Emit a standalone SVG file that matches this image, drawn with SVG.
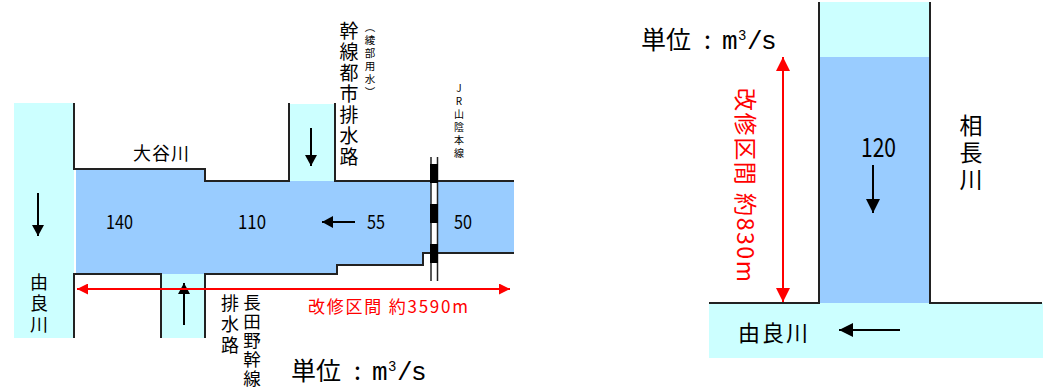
<svg xmlns="http://www.w3.org/2000/svg" width="1045" height="390" viewBox="0 0 1045 390">
<style>
text{font-family:"Noto Sans CJK JP","Noto Sans",sans-serif;fill:#000}
.v{writing-mode:vertical-rl;text-orientation:upright}
.u{font-size:25px}
.n{font-size:26px;font-family:"Liberation Mono",monospace}
.s{font-size:14px;font-family:"Liberation Mono",monospace}
.wall{fill:none;stroke:#222;stroke-width:2}
.rail{fill:none;stroke:#222;stroke-width:1.5}
.flow{fill:none;stroke:#000;stroke-width:2}
.red{fill:none;stroke:#f00;stroke-width:2}
.light{fill:#ccffff}.blue{fill:#99ccff}
text.red-t{fill:#f00}
</style>
<defs>
<marker id="ab" markerUnits="userSpaceOnUse" markerWidth="11" markerHeight="12" refX="11" refY="6" orient="auto"><path d="M0 0L11 6L0 12z" fill="#000"/></marker>
<marker id="abl" markerUnits="userSpaceOnUse" markerWidth="14" markerHeight="14" refX="14" refY="7" orient="auto"><path d="M0 0L14 7L0 14z" fill="#000"/></marker>
<marker id="ar" markerUnits="userSpaceOnUse" markerWidth="11" markerHeight="11" refX="11" refY="5.5" orient="auto-start-reverse"><path d="M0 0L11 5.5L0 11z" fill="#f00"/></marker>
<marker id="arl" markerUnits="userSpaceOnUse" markerWidth="14" markerHeight="14" refX="14" refY="7" orient="auto-start-reverse"><path d="M0 0L14 7L0 14z" fill="#f00"/></marker>
</defs>

<g id="river-yura-left">
<rect class="light" x="14" y="103" width="60" height="235"/>
<text class="v" x="39" y="273" font-size="18" letter-spacing="3">由良川</text>
</g>
<g id="main-channel">
<path class="blue" d="M76 168H205V181H514V253H423V265H337V274H76z"/>
<text x="106" y="229" font-size="19" textLength="27" lengthAdjust="spacingAndGlyphs">140</text>
<text x="238" y="229" font-size="19" textLength="28" lengthAdjust="spacingAndGlyphs">110</text>
<text x="367" y="229" font-size="19" textLength="18" lengthAdjust="spacingAndGlyphs">55</text>
<text x="454" y="229" font-size="19" textLength="18" lengthAdjust="spacingAndGlyphs">50</text>
</g>
<g id="tributary-top">
<rect class="light" x="289" y="104" width="46" height="77"/>
<text class="v" x="349" y="21" font-size="19" letter-spacing="2">幹線都市排水路</text>
<text class="v" x="370" y="22" font-size="10.500" letter-spacing="2.500">（綾部用水）</text>
</g>
<g id="tributary-bottom">
<rect class="light" x="161" y="274" width="44" height="64"/>
<text class="v" x="230" y="294" font-size="18" letter-spacing="3">排水路</text>
<text class="v" x="252" y="294" font-size="17.500" letter-spacing="1.500">長田野幹線</text>
</g>
<g id="label-otani"><text x="133" y="160" font-size="18" letter-spacing="1">大谷川</text></g>
<g id="label-jr"><text class="v" x="459" y="83" font-size="10" letter-spacing="3">JR山陰本線</text></g>

<g id="river-aio">
<rect class="light" x="819" y="2" width="111" height="56"/>
<rect class="blue" x="819" y="57" width="111" height="246"/>
<text x="861" y="157" font-size="27" textLength="35" lengthAdjust="spacingAndGlyphs">120</text>
<text class="v" x="971" y="114" font-size="23" letter-spacing="4">相長川</text>
</g>
<g id="river-yura-right">
<rect class="light" x="709" y="303" width="334" height="55"/>
<text x="738" y="341" font-size="22" letter-spacing="2">由良川</text>
</g>

<g id="connectors">
<path class="wall" d="M74 103V169H205V181H289V103M335 103V181H514"/>
<path class="wall" d="M74 338V274H161V338M205 338V274H337V265H423V253H514"/>
<path class="wall" d="M819 2V303H709M930 2V303H1042"/>
<rect x="431" y="157" width="7" height="124" fill="#fff"/>
<path class="rail" d="M431 157V281M437.500 157V281"/>
<rect x="430" y="164" width="8" height="19" fill="#000"/>
<rect x="430" y="204" width="8" height="19" fill="#000"/>
<rect x="430" y="244" width="8" height="19" fill="#000"/>
<path class="flow" d="M38 193V236" marker-end="url(#ab)"/>
<path class="flow" d="M311 128V166" marker-end="url(#ab)"/>
<path class="flow" d="M184 325V283" marker-end="url(#ab)"/>
<path class="flow" d="M355 222H322" marker-end="url(#ab)"/>
<path class="flow" d="M873 165V213" marker-end="url(#abl)"/>
<path class="flow" d="M900 330H839" marker-end="url(#abl)"/>
<path class="red" d="M77 289H510" marker-start="url(#ar)" marker-end="url(#ar)"/>
<path class="red" d="M783 57V302" marker-start="url(#arl)" marker-end="url(#arl)"/>
</g>

<g id="label-length-main"><text class="red-t" x="308" y="313" font-size="17" textLength="160" xml:space="preserve">改修区間 約3590m</text></g>
<g id="label-length-aio"><text class="red-t" transform="translate(737 88) rotate(90)" font-size="23" textLength="194" xml:space="preserve">改修区間 約830m</text></g>
<g id="label-unit-main"><text class="u" y="380"><tspan x="291">単位</tspan><tspan x="354">:</tspan><tspan class="n" x="372">m</tspan><tspan class="s" x="388" y="371">3</tspan><tspan class="n" x="397" y="380">/</tspan><tspan class="n" x="411">s</tspan></text></g>
<g id="label-unit-aio"><text class="u" y="49"><tspan x="641">単位</tspan><tspan x="704">:</tspan><tspan class="n" x="722">m</tspan><tspan class="s" x="738" y="40">3</tspan><tspan class="n" x="747" y="49">/</tspan><tspan class="n" x="761">s</tspan></text></g>
</svg>
